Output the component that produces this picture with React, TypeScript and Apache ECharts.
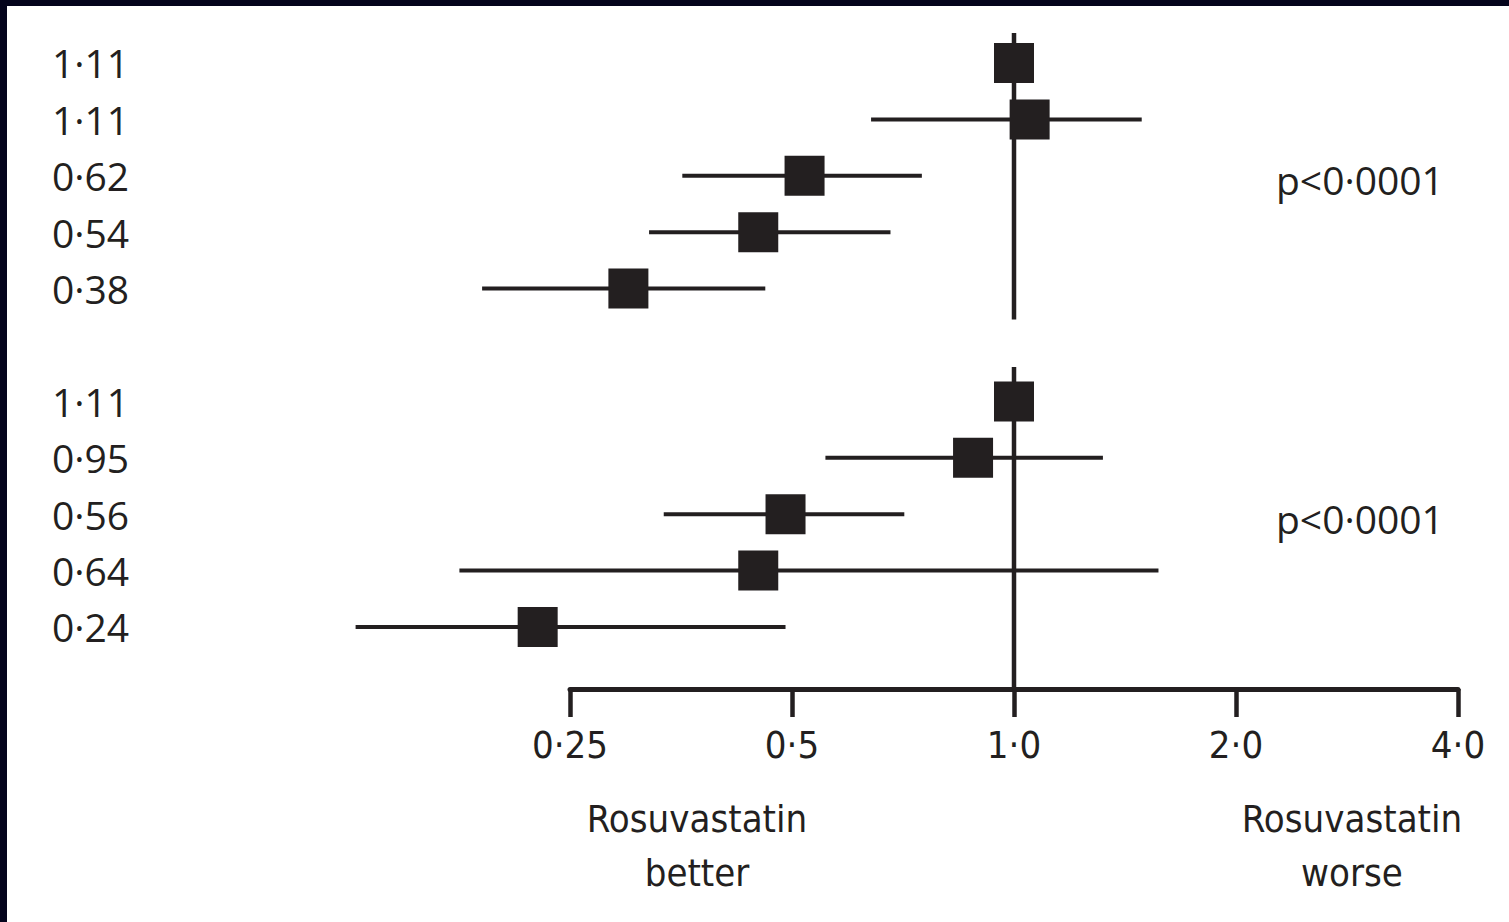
import React, { useEffect, useRef } from "react";
import * as echarts from "echarts";

// Row labels shown on the left (top group, then bottom group)
const rowLabels = [1.11, 1.11, 0.62, 0.54, 0.38, 1.11, 0.95, 0.56, 0.64, 0.24];
// Row slot index (slot 5 is the gap between the two groups)
const rowSlots = [0, 1, 2, 3, 4, 6, 7, 8, 9, 10];
// Hazard ratio point estimates
const hrValues = [1.0, 1.05, 0.52, 0.45, 0.3, 1.0, 0.88, 0.49, 0.45, 0.226];
// 95% CI bounds (null = reference group, no interval)
const ciLow = [null, 0.64, 0.355, 0.32, 0.19, null, 0.555, 0.335, 0.177, 0.128];
const ciHigh = [null, 1.49, 0.75, 0.68, 0.46, null, 1.32, 0.71, 1.57, 0.49];
// Axis tick values
const xTicks = [0.25, 0.5, 1, 2, 4];
// Reference line at HR = 1, drawn as two segments (in row-slot units)
const refValue = 1;
const refSegments = [
  [-0.53, 4.55],
  [5.39, 11.1],
];
// p-values per group, placed next to the middle row of each group
const pValues = ["p<0·0001", "p<0·0001"];
const pValueSlots = [2, 8];

const INK = "#231f20";
const condensed = "'Liberation Sans Narrow', 'DejaVu Sans Condensed', 'Open Sans', sans-serif";
const regular = "'Open Sans', 'Noto Sans', sans-serif";

const fmt = (v: number) => {
  const r = Math.round(v * 10000) / 10000;
  const s = r >= 1 ? r.toFixed(1) : String(r);
  return s.replace(".", "·");
};

export default function App() {
  const ref = useRef<HTMLDivElement>(null);
  useEffect(() => {
    if (!ref.current) return;
    const chart = echarts.init(ref.current, null, { renderer: "svg" });

    const rowData = rowSlots.map((s, i) => [
      hrValues[i],
      ciLow[i] ?? hrValues[i],
      ciHigh[i] ?? hrValues[i],
      s,
      ciLow[i] == null ? 0 : 1,
      rowLabels[i],
    ]);

    const option: any = {
      animation: false,
      backgroundColor: "#ffffff",
      grid: { left: 570, right: 51, top: 6.6, bottom: 233 },
      xAxis: {
        type: "log",
        logBase: 2,
        min: xTicks[0],
        max: xTicks[xTicks.length - 1],
        splitLine: { show: false },
        axisLine: { show: true, onZero: false, lineStyle: { color: INK, width: 5 } },
        axisTick: { show: true, length: 28, lineStyle: { color: INK, width: 4.5 } },
        minorTick: { show: false },
        axisLabel: {
          show: true,
          margin: 37,
          fontSize: 38,
          fontFamily: condensed,
          color: INK,
          showMinLabel: true,
          showMaxLabel: true,
          formatter: (v: number) => fmt(v),
        },
      },
      yAxis: {
        type: "value",
        inverse: true,
        min: -1,
        max: 11.1,
        show: false,
      },
      graphic: [
        { type: "rect", left: 0, top: 0, shape: { width: 1509, height: 6 }, style: { fill: "#04041c" }, z: 100 },
        { type: "rect", left: 0, top: 0, shape: { width: 7, height: 922 }, style: { fill: "#04041c" }, z: 100 },
        {
          type: "text",
          x: 697,
          y: 792,
          style: {
            text: "Rosuvastatin\nbetter",
            fontSize: 38,
            lineHeight: 54,
            fontFamily: condensed,
            fill: INK,
            align: "center",
            verticalAlign: "top",
          },
        },
        {
          type: "text",
          x: 1352,
          y: 792,
          style: {
            text: "Rosuvastatin\nworse",
            fontSize: 38,
            lineHeight: 54,
            fontFamily: condensed,
            fill: INK,
            align: "center",
            verticalAlign: "top",
          },
        },
      ],
      series: [
        {
          type: "custom",
          name: "reference",
          z: 1,
          clip: false,
          data: refSegments.map((seg) => [refValue, seg[0], seg[1]]),
          renderItem: (params: any, api: any) => {
            const p1 = api.coord([api.value(0), api.value(1)]);
            const p2 = api.coord([api.value(0), api.value(2)]);
            return {
              type: "line",
              shape: { x1: p1[0], y1: p1[1], x2: p2[0], y2: p2[1] },
              style: { stroke: INK, lineWidth: 4.5 },
            };
          },
        },
        {
          type: "custom",
          name: "estimates",
          z: 2,
          clip: false,
          data: rowData,
          encode: { x: [0, 1, 2], y: 3 },
          renderItem: (params: any, api: any) => {
            const y = api.value(3);
            const c = api.coord([api.value(0), y]);
            const lo = api.coord([api.value(1), y]);
            const hi = api.coord([api.value(2), y]);
            const children: any[] = [];
            if (api.value(4) === 1) {
              children.push({
                type: "line",
                shape: { x1: lo[0], y1: lo[1], x2: hi[0], y2: hi[1] },
                style: { stroke: INK, lineWidth: 4 },
              });
            }
            children.push({
              type: "rect",
              shape: { x: c[0] - 20, y: c[1] - 20, width: 40, height: 40 },
              style: { fill: INK },
            });
            children.push({
              type: "text",
              x: 52,
              y: c[1],
              style: {
                text: Number(api.value(5)).toFixed(2).replace(".", "·"),
                fontSize: 39,
                fontFamily: regular,
                fill: INK,
                align: "left",
                verticalAlign: "middle",
              },
            });
            return { type: "group", children };
          },
        },
        {
          type: "custom",
          name: "pvalues",
          z: 2,
          clip: false,
          data: pValueSlots.map((s, i) => [s, i]),
          renderItem: (params: any, api: any) => {
            const c = api.coord([1, api.value(0)]);
            return {
              type: "text",
              x: 1276,
              y: c[1] + 4,
              style: {
                text: pValues[api.value(1)],
                fontSize: 39,
                fontFamily: regular,
                fill: INK,
                align: "left",
                verticalAlign: "middle",
              },
            };
          },
        },
      ],
    };
    chart.setOption(option);
    return () => chart.dispose();
  }, []);
  return (
    <div
      ref={ref}
      style={{ position: "absolute", left: 0, top: 0, width: 1509, height: 922 }}
    />
  );
}
